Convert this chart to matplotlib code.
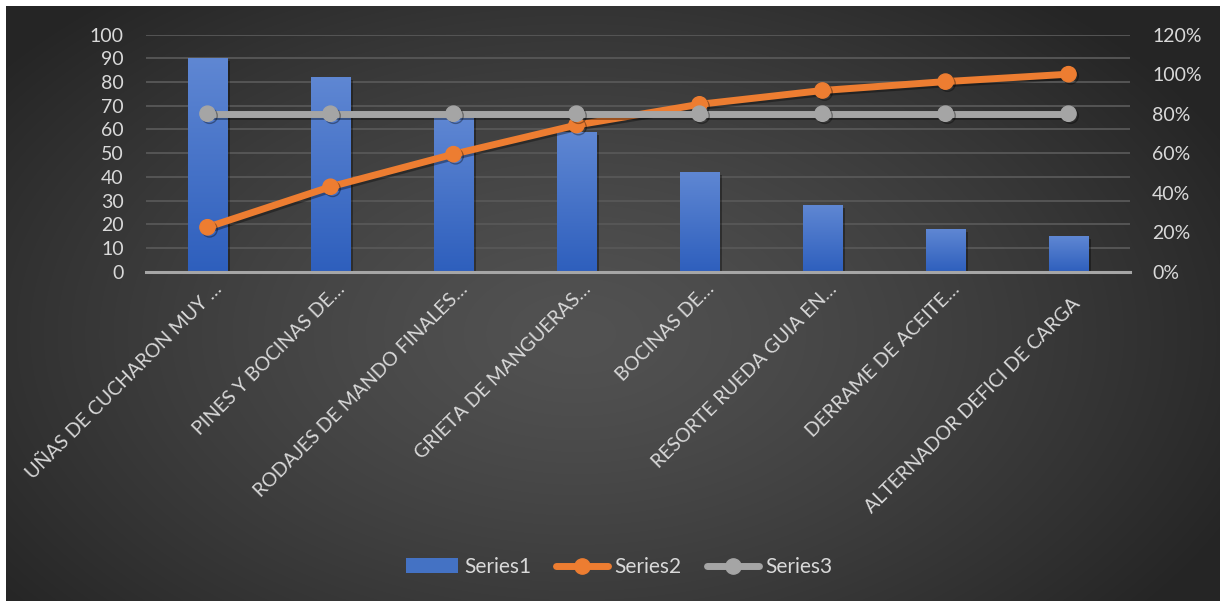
import numpy as np
import matplotlib
matplotlib.use("Agg")
import matplotlib.pyplot as plt
from matplotlib import patheffects as pe
from matplotlib.colors import LinearSegmentedColormap
from matplotlib.lines import Line2D
from matplotlib.patches import Patch
from matplotlib.ticker import PercentFormatter
from matplotlib.transforms import ScaledTranslation

# ---- data -------------------------------------------------------------
categories = [
    "UÑAS DE CUCHARON MUY …",
    "PINES Y BOCINAS DE…",
    "RODAJES DE MANDO FINALES…",
    "GRIETA DE MANGUERAS…",
    "BOCINAS DE…",
    "RESORTE RUEDA GUIA EN…",
    "DERRAME DE ACEITE…",
    "ALTERNADOR DEFICI DE CARGA",
]
frequency = [90, 82, 66, 59, 42, 28, 18, 15]
cumulative_pct = [0.225, 0.43, 0.595, 0.7425, 0.8475, 0.9175, 0.9625, 1.0]
threshold_pct = [0.8, 0.8, 0.8, 0.8, 0.8, 0.8, 0.8, 0.8]
left_ticks = [0, 10, 20, 30, 40, 50, 60, 70, 80, 90, 100]
right_ticks = [0.0, 0.2, 0.4, 0.6, 0.8, 1.0, 1.2]
series_names = ["Series1", "Series2", "Series3"]

# ---- style ------------------------------------------------------------
plt.rcParams["font.family"] = ["Lato", "DejaVu Sans"]
TEXT = "#d9d9d9"
BLUE = "#4472C4"
BLUE_TOP = "#5f87d3"
BLUE_BOTTOM = "#2e5fbd"
ORANGE = "#ED7D31"
GRAY = "#A5A5A5"

W, H = 1220, 601
fig = plt.figure(figsize=(W / 100, H / 100), dpi=100, facecolor="white")

# dark radial background of the chart area
bg = fig.add_axes([6 / W, 0, (W - 6) / W, (H - 6) / H], zorder=-10)
bw, bh = W - 6, H - 6
yy, xx = np.mgrid[0:bh, 0:bw]
d = np.sqrt(((xx - bw * 0.47) / (bw * 0.60)) ** 2 + ((yy - bh * 0.55) / (bh * 0.75)) ** 2)
t = np.clip(d, 0, 1) ** 1.3
c_in, c_out = 0x52 / 255, 0x25 / 255
img = c_in + (c_out - c_in) * t
bg.imshow(np.dstack([img, img, img]), aspect="auto", interpolation="bilinear")
bg.set_axis_off()

# ---- main axes --------------------------------------------------------
ax = fig.add_axes([146 / W, (H - 271.7) / H, 984 / W, 237 / H])
ax.patch.set_alpha(0)
x = np.arange(len(categories))
bar_w = 0.32

bars = ax.bar(
    x, frequency, width=bar_w, color=BLUE, zorder=2,
    path_effects=[pe.SimplePatchShadow(offset=(2, -2), shadow_rgbFace="black", alpha=0.35), pe.Normal()],
)
bar_cmap = LinearSegmentedColormap.from_list("bar", [BLUE_BOTTOM, BLUE_TOP])
grad = np.linspace(0, 1, 256).reshape(-1, 1)
for xi, val, rect in zip(x, frequency, bars):
    im = ax.imshow(grad, extent=[xi - bar_w / 2, xi + bar_w / 2, 0, val], origin="lower",
                   aspect="auto", cmap=bar_cmap, zorder=2.1, interpolation="bilinear")
    im.set_clip_path(rect)

ax.set_xlim(-0.5, len(categories) - 0.5)
ax.set_ylim(0, 100)
ax.set_yticks(left_ticks)
ax.yaxis.grid(True, color="#585858", lw=1.3, zorder=0)
ax.set_axisbelow(True)
ax.axhline(0, color="#a6a6a6", lw=2.2, zorder=2.5, clip_on=False)
for s in ax.spines.values():
    s.set_visible(False)
ax.tick_params(axis="y", length=0, pad=16, labelsize=14, labelcolor=TEXT)
ax.tick_params(axis="x", length=0, labelbottom=False)

# category labels, rotated
for i, (xi, lab) in enumerate(zip(x, categories)):
    dx, dy = (13, -33) if i == len(categories) - 1 else (15.5, -18.3)
    tr = ax.get_xaxis_transform() + ScaledTranslation(dx / 100, dy / 100, fig.dpi_scale_trans)
    ax.text(xi, 0, lab, transform=tr, rotation=45, rotation_mode="anchor",
            ha="right", va="baseline", fontsize=14, color=TEXT)

# ---- secondary axis: cumulative % and threshold -----------------------
ax2 = ax.twinx()
ax2.set_ylim(0, 1.2)
ax2.set_yticks(right_ticks)
ax2.yaxis.set_major_formatter(PercentFormatter(1.0, decimals=0))
for s in ax2.spines.values():
    s.set_visible(False)
ax2.tick_params(axis="y", length=0, pad=16, labelsize=14, labelcolor=TEXT)

shadow = [pe.SimpleLineShadow(offset=(1.5, -1.5), shadow_color="black", alpha=0.35), pe.Normal()]
ax2.plot(x, cumulative_pct, color=ORANGE, lw=5, marker="o", ms=11,
         solid_capstyle="round", zorder=3, path_effects=shadow)
ax2.plot(x, threshold_pct, color=GRAY, lw=5, marker="o", ms=11,
         solid_capstyle="round", zorder=4, path_effects=shadow)

# ---- legend ------------------------------------------------------------
handles = [
    Patch(facecolor=BLUE, edgecolor="none"),
    Line2D([], [], color=ORANGE, lw=5, marker="o", ms=11, solid_capstyle="round"),
    Line2D([], [], color=GRAY, lw=5, marker="o", ms=11, solid_capstyle="round"),
]
fig.legend(handles, series_names, loc="center", bbox_to_anchor=(619 / W, 1 - 567 / H),
           ncol=3, frameon=False, fontsize=15, labelcolor=TEXT,
           handlelength=2.5, handletextpad=0.3, columnspacing=1.2)

fig.savefig("out.png", dpi=100, facecolor="white")
